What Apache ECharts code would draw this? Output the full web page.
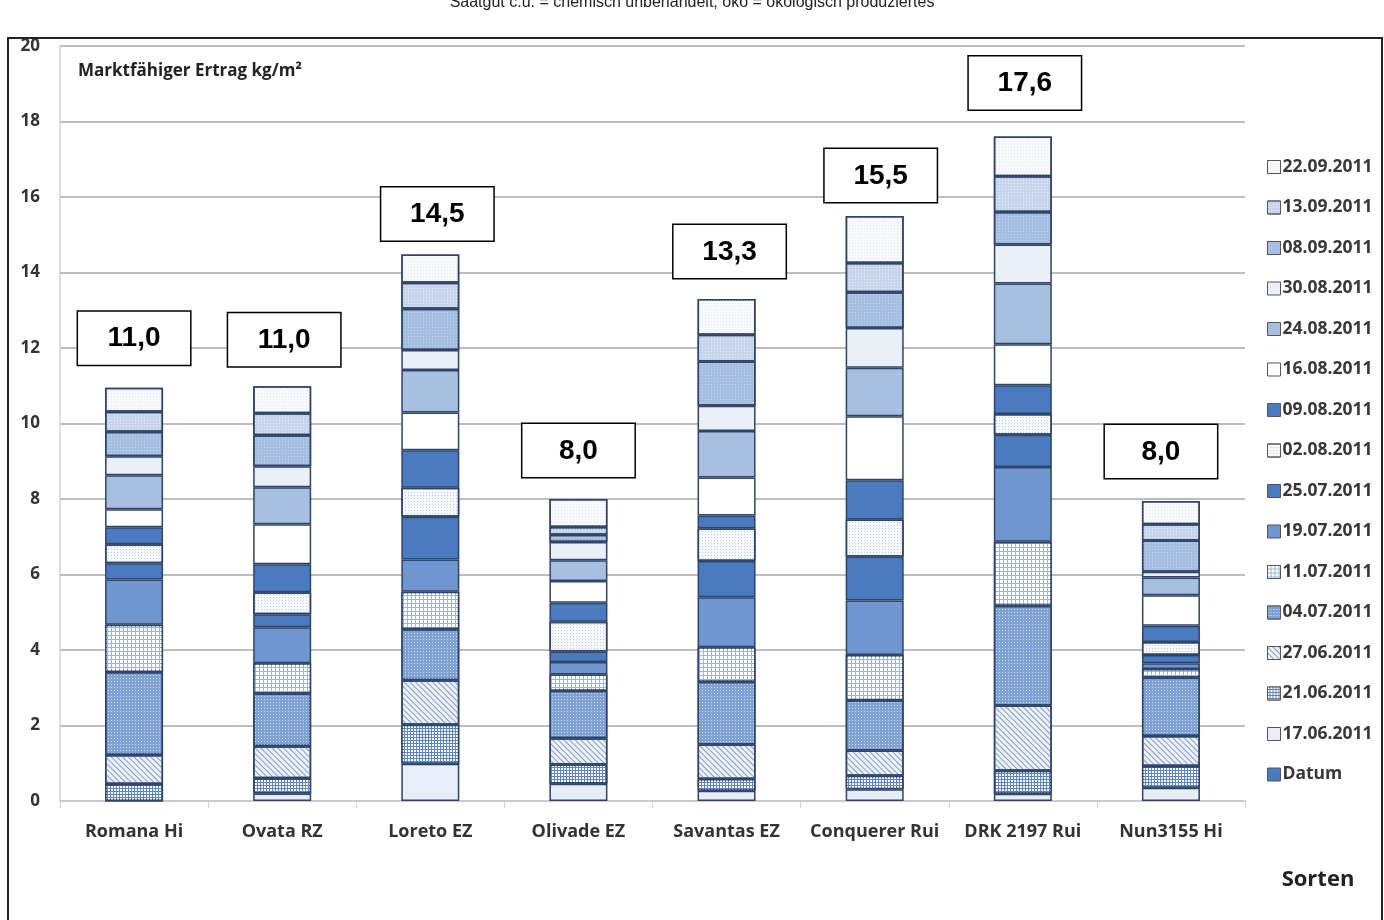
<!DOCTYPE html>
<html>
<head>
<meta charset="utf-8">
<script src="https://cdn.jsdelivr.net/npm/echarts@6/dist/echarts.min.js"></script>
<style>
html,body{margin:0;padding:0;background:#fff;}
#chart{width:1384px;height:920px;}
</style>
</head>
<body>
<div id="chart"></div>
<script>
// ---- data ----
const categories = ["Romana Hi", "Ovata RZ", "Loreto EZ", "Olivade EZ", "Savantas EZ", "Conquerer Rui", "DRK 2197 Rui", "Nun3155 Hi"];
const dates = ["17.06.2011", "21.06.2011", "27.06.2011", "04.07.2011", "11.07.2011", "19.07.2011", "25.07.2011", "02.08.2011", "09.08.2011", "16.08.2011", "24.08.2011", "30.08.2011", "08.09.2011", "13.09.2011", "22.09.2011"];
const d1706 = [0, 0.20, 0.99, 0.46, 0.27, 0.31, 0.19, 0.35];
const d2106 = [0.45, 0.40, 1.03, 0.51, 0.31, 0.36, 0.61, 0.58];
const d2706 = [0.77, 0.85, 1.18, 0.69, 0.92, 0.67, 1.73, 0.79];
const d0407 = [2.20, 1.40, 1.35, 1.26, 1.66, 1.33, 2.64, 1.55];
const d1107 = [1.25, 0.80, 0.99, 0.43, 0.91, 1.20, 1.70, 0.23];
const d1907 = [1.20, 0.95, 0.86, 0.33, 1.33, 1.44, 1.98, 0.15];
const d2507 = [0.43, 0.35, 1.13, 0.28, 0.96, 1.17, 0.85, 0.22];
const d0208 = [0.50, 0.58, 0.77, 0.79, 0.86, 0.98, 0.55, 0.34];
const d0908 = [0.45, 0.74, 0.99, 0.50, 0.34, 1.04, 0.76, 0.43];
const d1608 = [0.48, 1.06, 1.00, 0.58, 1.01, 1.69, 1.09, 0.81];
const d2408 = [0.90, 0.98, 1.13, 0.55, 1.23, 1.29, 1.61, 0.47];
const d3008 = [0.50, 0.56, 0.53, 0.48, 0.67, 1.05, 1.03, 0.15];
const d0809 = [0.65, 0.82, 1.09, 0.19, 1.17, 0.95, 0.86, 0.83];
const d1309 = [0.53, 0.58, 0.69, 0.21, 0.71, 0.77, 0.95, 0.43];
const d2209 = [0.64, 0.72, 0.75, 0.74, 0.95, 1.25, 1.05, 0.62];
const totals = [11.0, 11.0, 14.5, 8.0, 13.3, 15.5, 17.6, 8.0];
const yTicks = [0, 2, 4, 6, 8, 10, 12, 14, 16, 18, 20];

const seriesValues = [d1706, d2106, d2706, d0407, d1107, d1907, d2507, d0208, d0908, d1608, d2408, d3008, d0809, d1309, d2209];

// ---- styles ----
const dots = (c) => ({symbol: 'rect', symbolSize: 1, dashArrayX: [1, 2], dashArrayY: [1, 2], color: c});
const squares = (c, s, g) => ({symbol: 'rect', symbolSize: 1, dashArrayX: [s, g], dashArrayY: [s, g], color: c});
const hatch = (c) => ({symbol: 'rect', symbolSize: 1, dashArrayX: [1, 0], dashArrayY: [1, 3], rotation: Math.PI / 4, color: c});
const styles = [
  {color: '#e8eef7'},
  {color: '#5f86c3', decal: squares('#ffffff', 2, 1)},
  {color: '#eef2f9', decal: hatch('#7f9dcb')},
  {color: '#7ea2d7', decal: dots('rgba(255,255,255,0.65)')},
  {color: '#9bb5dc', decal: squares('#ffffff', 3, 1)},
  {color: '#6f96cf'},
  {color: '#4a7bc0'},
  {color: '#f6f8fc', decal: dots('#bccde7')},
  {color: '#4a7bc0'},
  {color: '#ffffff'},
  {color: '#a7c0e2'},
  {color: '#eaf0f8'},
  {color: '#a5bde0', decal: dots('rgba(255,255,255,0.4)')},
  {color: '#c6d5ec', decal: dots('rgba(255,255,255,0.6)')},
  {color: '#f7f9fc', decal: dots('#e3eaf4')}
];
const labelShift = [[0, -3], [2, 0], [7, 6], [0, -2], [3, -1], [6, 6], [2, -7], [-10, -3]];
const FONT = '"Open Sans", Lato, sans-serif';

const series = dates.map((d, i) => {
  const s = {
    name: d, type: 'bar', stack: 'total', barWidth: 58,
    itemStyle: Object.assign({borderColor: '#2f4468', borderWidth: 1.5}, styles[i]),
    emphasis: {disabled: true},
    data: seriesValues[i].map(v => v)
  };
  if (i === dates.length - 1) {
    s.data = seriesValues[i].map((v, k) => ({
      value: v,
      label: {
        show: true, position: 'top', distance: 20,
        offset: labelShift[k],
        formatter: () => totals[k].toFixed(1).replace('.', ','),
        fontFamily: 'Liberation Sans, Arial, sans-serif', fontWeight: 'bold', fontSize: 28,
        color: '#000', backgroundColor: '#fff', borderColor: '#000', borderWidth: 1.5,
        width: 64, align: 'center',
        padding: [13, 24, 12, 24]
      }
    }));
  }
  return s;
});
series.push({name: 'Datum', type: 'bar', stack: 'total', barWidth: 58, itemStyle: {color: '#4a7bc0'}, data: []});

const legendOrdered = dates.slice().reverse().concat(['Datum']);

const chart = echarts.init(document.getElementById('chart'), null, {renderer: 'canvas'});
chart.setOption({
  animation: false,
  backgroundColor: '#ffffff',
  textStyle: {fontFamily: FONT},
  grid: {left: 60, right: 139, top: 46, bottom: 119},
  legend: {
    orient: 'vertical', left: 1262, top: 152,
    data: legendOrdered,
    itemWidth: 13, itemHeight: 13, itemGap: 20.5,
    icon: 'rect',
    selectedMode: false,
    textStyle: {fontFamily: FONT, fontWeight: 'bold', fontSize: 17.5, color: '#383838', lineHeight: 20, padding: [0, 0, 0, -3]},
    itemStyle: {borderColor: '#555', borderWidth: 1}
  },
  xAxis: {
    type: 'category', data: categories,
    axisLine: {lineStyle: {color: '#d0d0d0', width: 1.5}},
    axisTick: {show: true, length: 7, lineStyle: {color: '#d0d0d0'}},
    axisLabel: {interval: 0, margin: 22, fontFamily: FONT, fontWeight: 'bold', fontSize: 18, color: '#333'}
  },
  yAxis: {
    type: 'value', min: yTicks[0], max: yTicks[yTicks.length - 1], interval: 2,
    axisLine: {show: true, lineStyle: {color: '#d0d0d0', width: 1.5}},
    axisTick: {show: false},
    splitLine: {lineStyle: {color: '#bdbdbd', width: 2}},
    axisLabel: {margin: 20, fontFamily: FONT, fontWeight: 'bold', fontSize: 17, color: '#333'}
  },
  graphic: [
    {type: 'rect', shape: {x: 8, y: 38, width: 1374, height: 890}, style: {fill: 'none', stroke: '#222', lineWidth: 2}, silent: true, z: 100},
    {type: 'text', x: 692, y: -5, style: {text: 'Saatgut c.u. = chemisch unbehandelt, öko = ökologisch produziertes', font: '16px "Liberation Sans", Arial, sans-serif', fill: '#222', textAlign: 'center', textVerticalAlign: 'top'}},
    {type: 'text', x: 78, y: 71, style: {text: 'Marktfähiger Ertrag kg/m²', font: 'bold 17px "Open Sans", Lato, sans-serif', fill: '#222', textAlign: 'left', textVerticalAlign: 'middle'}},
    {type: 'text', x: 1318, y: 880, style: {text: 'Sorten', font: 'bold 22px "Open Sans", Lato, sans-serif', fill: '#222', textAlign: 'center', textVerticalAlign: 'middle'}}
  ],
  series: series
});
</script>
</body>
</html>
